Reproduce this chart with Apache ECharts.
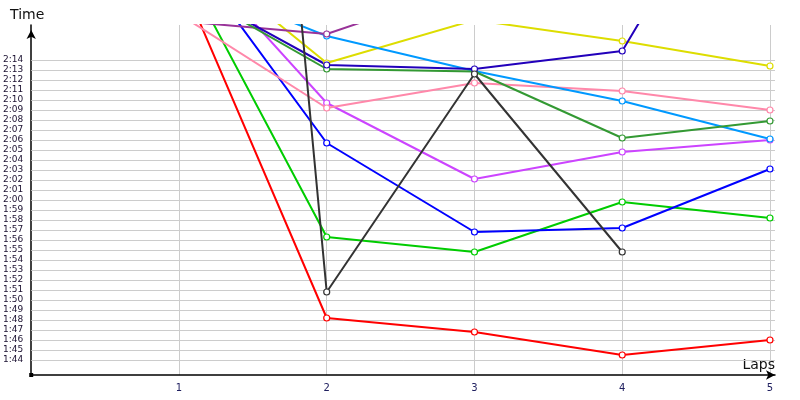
<!DOCTYPE html>
<html>
<head>
<meta charset="utf-8">
<script src="https://cdn.jsdelivr.net/npm/echarts@6/dist/echarts.min.js"></script>
<style>html,body{margin:0;padding:0;background:#fff}#c{width:800px;height:400px}</style>
</head>
<body>
<div id="c"></div>
<script>
// Laps on the x axis
const laps = [1, 2, 3, 4, 5];
// Lap times in seconds (null = no lap)
const red       = [142.6, 108.2, 106.8, 104.5, 106.0];
const green     = [144.1, 116.3, 114.8, 119.8, 118.2];
const blue      = [145.8, 125.7, 116.8, 117.2, 123.1];
const magenta   = [146.0, 129.7, 122.1, 124.8, 126.0];
const pink      = [138.6, 129.2, 131.7, 130.9, 129.0];
const yellow    = [145.7, 133.7, 138.0, 135.9, 133.4];
const lightBlue = [142.3, 136.4, 132.9, 129.9, 126.1];
const purple    = [137.9, 136.6, 141.6, 141.0, 140.5];
const darkGreen = [141.5, 133.1, 132.85, 126.2, 127.9];
const navy      = [141.6, 133.5, 133.1, 134.9, 159.7];
const gray      = [268.9, 110.8, 132.6, 114.8, null];
// Tick labels
const yTicks = [104,105,106,107,108,109,110,111,112,113,114,115,116,117,118,119,120,121,122,123,124,125,126,127,128,129,130,131,132,133,134];
const xTicks = [1, 2, 3, 4, 5];

const seriesDefs = [
  ['red', red, '#ff0000'],
  ['green', green, '#00cc00'],
  ['blue', blue, '#0000ff'],
  ['magenta', magenta, '#cc44ff'],
  ['pink', pink, '#ff88aa'],
  ['yellow', yellow, '#dddd00'],
  ['lightBlue', lightBlue, '#0099ff'],
  ['purple', purple, '#993399'],
  ['darkGreen', darkGreen, '#339933'],
  ['navy', navy, '#2200bb'],
  ['gray', gray, '#333333']
];

function fmt(v) {
  const m = Math.floor(v / 60);
  const s = Math.round(v - m * 60);
  return m + ':' + (s < 10 ? '0' + s : s);
}

const series = seriesDefs.map(([name, vals, color]) => ({
  name: name,
  type: 'line',
  z: 3,
  data: laps.map((l, i) => [l, vals[i]]),
  connectNulls: false,
  symbol: 'circle',
  symbolSize: 6,
  showAllSymbol: true,
  clip: true,
  lineStyle: {color: color, width: 2},
  itemStyle: {color: '#ffffff', borderColor: color, borderWidth: 1.2},
  emphasis: {disabled: true}
}));
// horizontal grid lines only at the labelled seconds
series.unshift({
  name: 'grid',
  type: 'line',
  z: 1,
  data: [],
  silent: true,
  markLine: {
    silent: true,
    z: 1,
    symbol: ['none', 'none'],
    label: {show: false},
    lineStyle: {color: '#cccccc', width: 1, type: 'solid'},
    emphasis: {disabled: true},
    animation: false,
    data: yTicks.map(v => ({yAxis: v}))
  }
});

const chart = echarts.init(document.getElementById('c'), null, {renderer: 'canvas'});
chart.setOption({
  animation: false,
  backgroundColor: '#ffffff',
  grid: {left: 30, right: 25, top: 25, bottom: 25, containLabel: false},
  xAxis: {
    type: 'value', min: 0, max: 5.034,
    name: 'Laps', nameLocation: 'end', nameGap: 0,
    nameTextStyle: {fontFamily: 'DejaVu Sans', fontSize: 14, color: '#111111', align: 'right', verticalAlign: 'bottom', padding: [0, 0, 3, 0]},
    axisLine: {show: true, lineStyle: {color: '#000000', width: 1.5}, symbol: ['none', 'arrow'], symbolSize: [7, 9], symbolOffset: [0, 0]},
    axisTick: {show: false, customValues: xTicks},
    axisLabel: {customValues: xTicks, fontFamily: 'DejaVu Sans', fontSize: 10, color: '#202060', margin: 8},
    splitLine: {show: true, lineStyle: {color: '#cccccc', width: 1}}
  },
  yAxis: {
    type: 'value', min: 102.5, max: 137.5,
    name: 'Time', nameLocation: 'end', nameGap: 3,
    nameTextStyle: {fontFamily: 'DejaVu Sans', fontSize: 14, color: '#111111', padding: [0, 8, 0, 0]},
    axisLine: {show: true, lineStyle: {color: '#000000', width: 1.5}, symbol: ['none', 'arrow'], symbolSize: [7, 9], symbolOffset: [0, -5]},
    axisTick: {show: false, customValues: yTicks},
    axisLabel: {customValues: yTicks, formatter: fmt, fontFamily: 'DejaVu Sans', fontSize: 9, color: '#1a1030', margin: 8, padding: [0, 0, 5, 0]},
    splitLine: {show: false}
  },
  series: series
});

// small square marker at the axis origin
const o = chart.convertToPixel({gridIndex: 0}, [0, 102.5]);
chart.setOption({
  graphic: [{type: 'rect', shape: {x: o[0] - 2, y: o[1] - 2, width: 4, height: 4}, style: {fill: '#000000'}, z: 10}]
});
</script>
</body>
</html>
